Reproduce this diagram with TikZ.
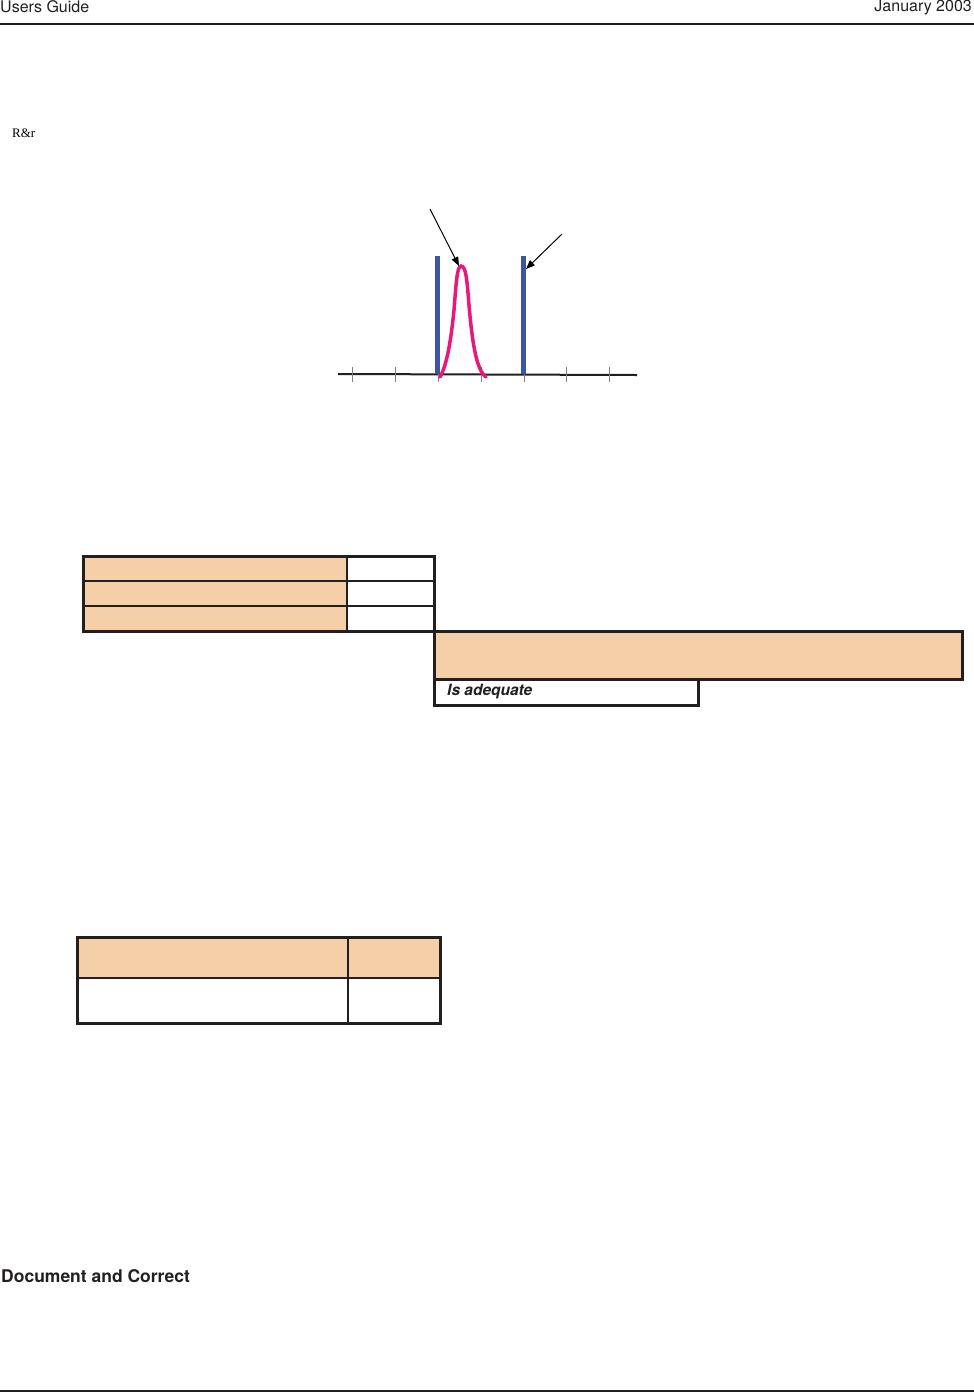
\documentclass[tikz,border=0pt]{standalone}
\usepackage{fontspec}
\setmainfont{TeX Gyre Heros}
\newfontfamily\serifrm{Liberation Serif}
\usetikzlibrary{arrows.meta}
\definecolor{peach}{HTML}{F5CFA8}
\definecolor{barblue}{HTML}{3D55A5}
\definecolor{curvepink}{HTML}{E8197A}
\definecolor{ink}{HTML}{231F20}
\tikzset{
  outer/.style={draw=ink, line width=3pt},
  inner/.style={draw=ink, line width=2pt},
  tick/.style={draw=gray, line width=0.8pt},
  bar/.style={draw=barblue, line width=5pt},
  pointer/.style={draw=black, line width=1pt, -{Triangle[length=9pt,width=7pt]}},
}
\begin{document}
\begin{tikzpicture}[x=1pt,y=-1pt]
\useasboundingbox (0,0) rectangle (974,1393);
% header
\node[anchor=north west, inner sep=0pt, font=\fontsize{16}{16}\selectfont, text=ink] (hl) at (0,0) {Users Guide};
\node[anchor=north east, inner sep=0pt, font=\fontsize{16}{16}\selectfont, text=ink] (hr) at (972,0) {January 2003};
\draw[ink, line width=1.5pt] (0,24) -- (974,24);
\node[anchor=west, inner sep=0pt, font=\serifrm\fontsize{13}{13}\selectfont] (rr) at (12,133) {R\&r};
% chart
\draw[ink, line width=2pt] (338,374) -- (637,375);
\foreach \x in {352,395,438,481,524,566,609} \draw[tick] (\x,367) -- (\x,382);
\draw[bar] (437.5,256) -- (437.5,374);
\draw[bar] (523,256) -- (523,374);
\draw[curvepink, line width=3.5pt, line cap=round]
  (440,377) .. controls (447,365) and (451,340) .. (454,310)
  .. controls (456,285) and (457,266) .. (461,266)
  .. controls (466,266) and (467,280) .. (469,305)
  .. controls (472,340) and (476,370) .. (486,377);
\coordinate (a1s) at (430,209);
\coordinate (a1e) at (459,266);
\coordinate (a2s) at (562,234);
\coordinate (a2e) at (526,269);
\draw[pointer] (a1s) -- (a1e);
\draw[pointer] (a2s) -- (a2e);
% table 1
\fill[peach] (83,556) rectangle (347,631);
\draw[inner] (83,581) -- (434,581);
\draw[inner] (83,606) -- (434,606);
\draw[inner] (347,556) -- (347,631);
\draw[outer] (83,556) rectangle (434,631);
\draw[outer, fill=peach] (434,631) rectangle (962,679);
\draw[outer] (434,679) rectangle (698,705);
\node[anchor=west, inner sep=0pt, font=\fontsize{15.5}{15.5}\selectfont\bfseries\itshape, text=ink] (adq) at (447,692) {Is adequate};
% table 2
\fill[peach] (77,937) rectangle (440,978);
\draw[inner] (77,978) -- (440,978);
\draw[inner] (348,937) -- (348,1023);
\draw[outer] (77,937) rectangle (440,1023);
% footer
\node[anchor=west, inner sep=0pt, font=\fontsize{17.5}{17.5}\selectfont\bfseries, text=ink] (doc) at (1,1276) {Document and Correct};
\draw[ink, line width=1.5pt] (0,1391) -- (974,1391);
\end{tikzpicture}
\end{document}
